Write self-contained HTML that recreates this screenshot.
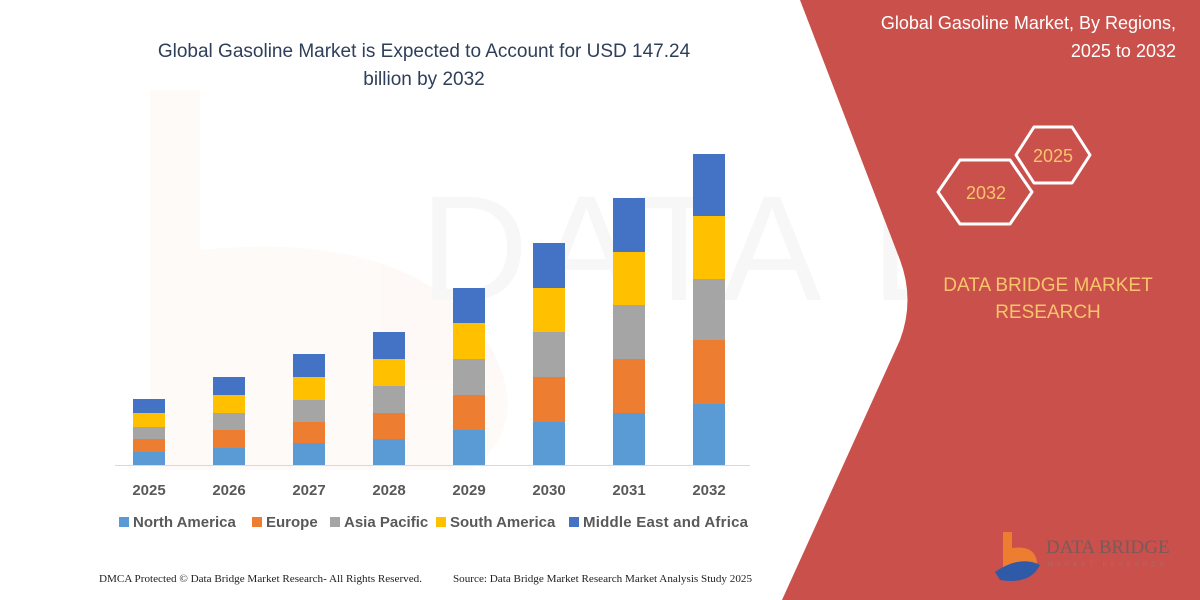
<!DOCTYPE html>
<html><head><meta charset="utf-8"><style>
html,body{margin:0;padding:0;background:#fff}
svg{display:block}
</style></head><body>
<svg width="1200" height="600" viewBox="0 0 1200 600" xmlns="http://www.w3.org/2000/svg" font-family="Liberation Sans, sans-serif">
<rect width="1200" height="600" fill="#fff"/>
<g opacity="0.04">
<path d="M150 90 L200 90 L200 250 Q400 230 480 330 Q540 420 470 470 L150 470 Z" fill="#ed7d31"/>
<text x="420" y="300" font-size="150" fill="#555" letter-spacing="8">DATA BRIDGE</text>
</g>
<path d="M800 0 L1200 0 L1200 600 L782 600 L900 340 Q915 300 900 260 Z" fill="#c9504b"/>
<text x="424" y="57" font-size="19" fill="#2f3f5a" text-anchor="middle">Global Gasoline Market is Expected to Account for USD 147.24</text>
<text x="424" y="85" font-size="19" fill="#2f3f5a" text-anchor="middle">billion by 2032</text>
<text x="1176" y="29" font-size="18" fill="#fff" text-anchor="end">Global Gasoline Market, By Regions,</text>
<text x="1176" y="57" font-size="18" fill="#fff" text-anchor="end">2025 to 2032</text>
<polygon points="1016,155 1034,127 1072,127 1090,155 1072,183 1034,183" fill="none" stroke="#fff" stroke-width="3" stroke-linejoin="round"/>
<text x="1053" y="162" font-size="18" fill="#f9c46b" text-anchor="middle">2025</text>
<polygon points="938,192 960,160 1010,160 1032,192 1010,224 960,224" fill="none" stroke="#fff" stroke-width="3" stroke-linejoin="round"/>
<text x="986" y="199" font-size="18" fill="#f9c46b" text-anchor="middle">2032</text>
<text x="1048" y="291" font-size="19" fill="#f9c46b" text-anchor="middle">DATA BRIDGE MARKET</text>
<text x="1048" y="318" font-size="19" fill="#f9c46b" text-anchor="middle">RESEARCH</text>
<path d="M1003 532 L1012 532 L1012 548 Q1035 545 1037 562 Q1036 578 1012 578 L1003 578 Z" fill="#ed7d31"/>
<path d="M995 572 Q1020 555 1040 565 Q1030 585 1000 580 Z" fill="#2e5aa8"/>
<text x="1046" y="553" font-size="19" fill="#7a5a5a" font-family="Liberation Serif, serif">DATA BRIDGE</text>
<text x="1048" y="566" font-size="6" fill="#a07070" letter-spacing="4">MARKET RESEARCH</text>
<line x1="115" y1="465.5" x2="750" y2="465.5" stroke="#d9d9d9" stroke-width="1"/>
<g>
<rect x="133" y="452" width="32" height="13" fill="#5b9bd5"/><rect x="133" y="439" width="32" height="13" fill="#ed7d31"/><rect x="133" y="427" width="32" height="12" fill="#a5a5a5"/><rect x="133" y="413" width="32" height="14" fill="#ffc000"/><rect x="133" y="399" width="32" height="14" fill="#4472c4"/>
<rect x="213" y="448" width="32" height="17" fill="#5b9bd5"/><rect x="213" y="430" width="32" height="18" fill="#ed7d31"/><rect x="213" y="413" width="32" height="17" fill="#a5a5a5"/><rect x="213" y="395" width="32" height="18" fill="#ffc000"/><rect x="213" y="377" width="32" height="18" fill="#4472c4"/>
<rect x="293" y="443" width="32" height="22" fill="#5b9bd5"/><rect x="293" y="422" width="32" height="21" fill="#ed7d31"/><rect x="293" y="400" width="32" height="22" fill="#a5a5a5"/><rect x="293" y="377" width="32" height="23" fill="#ffc000"/><rect x="293" y="354" width="32" height="23" fill="#4472c4"/>
<rect x="373" y="439" width="32" height="26" fill="#5b9bd5"/><rect x="373" y="413" width="32" height="26" fill="#ed7d31"/><rect x="373" y="386" width="32" height="27" fill="#a5a5a5"/><rect x="373" y="359" width="32" height="27" fill="#ffc000"/><rect x="373" y="332" width="32" height="27" fill="#4472c4"/>
<rect x="453" y="430" width="32" height="35" fill="#5b9bd5"/><rect x="453" y="395" width="32" height="35" fill="#ed7d31"/><rect x="453" y="359" width="32" height="36" fill="#a5a5a5"/><rect x="453" y="323" width="32" height="36" fill="#ffc000"/><rect x="453" y="288" width="32" height="35" fill="#4472c4"/>
<rect x="533" y="422" width="32" height="43" fill="#5b9bd5"/><rect x="533" y="377" width="32" height="45" fill="#ed7d31"/><rect x="533" y="332" width="32" height="45" fill="#a5a5a5"/><rect x="533" y="288" width="32" height="44" fill="#ffc000"/><rect x="533" y="243" width="32" height="45" fill="#4472c4"/>
<rect x="613" y="413" width="32" height="52" fill="#5b9bd5"/><rect x="613" y="359" width="32" height="54" fill="#ed7d31"/><rect x="613" y="305" width="32" height="54" fill="#a5a5a5"/><rect x="613" y="252" width="32" height="53" fill="#ffc000"/><rect x="613" y="198" width="32" height="54" fill="#4472c4"/>
<rect x="693" y="404" width="32" height="61" fill="#5b9bd5"/><rect x="693" y="340" width="32" height="64" fill="#ed7d31"/><rect x="693" y="279" width="32" height="61" fill="#a5a5a5"/><rect x="693" y="216" width="32" height="63" fill="#ffc000"/><rect x="693" y="154" width="32" height="62" fill="#4472c4"/>
</g>
<g font-size="15" font-weight="bold" fill="#595959" text-anchor="middle">
<text x="149" y="495">2025</text><text x="229" y="495">2026</text><text x="309" y="495">2027</text><text x="389" y="495">2028</text><text x="469" y="495">2029</text><text x="549" y="495">2030</text><text x="629" y="495">2031</text><text x="709" y="495">2032</text>
</g>
<g font-size="15" font-weight="bold" fill="#595959">
<rect x="119" y="517" width="10" height="10" fill="#5b9bd5"/><text x="133" y="527">North America</text>
<rect x="252" y="517" width="10" height="10" fill="#ed7d31"/><text x="266" y="527">Europe</text>
<rect x="330" y="517" width="10" height="10" fill="#a5a5a5"/><text x="344" y="527">Asia Pacific</text>
<rect x="436" y="517" width="10" height="10" fill="#ffc000"/><text x="450" y="527">South America</text>
<rect x="569" y="517" width="10" height="10" fill="#4472c4"/><text x="583" y="527" textLength="165">Middle East and Africa</text>
</g>
<g font-size="10" fill="#222" font-family="Liberation Serif, serif">
<text x="99" y="582" textLength="323" lengthAdjust="spacingAndGlyphs">DMCA Protected © Data Bridge Market Research-  All Rights Reserved.</text>
<text x="453" y="582" textLength="299" lengthAdjust="spacingAndGlyphs">Source: Data Bridge Market Research  Market Analysis Study 2025</text>
</g>
</svg>
</body></html>
